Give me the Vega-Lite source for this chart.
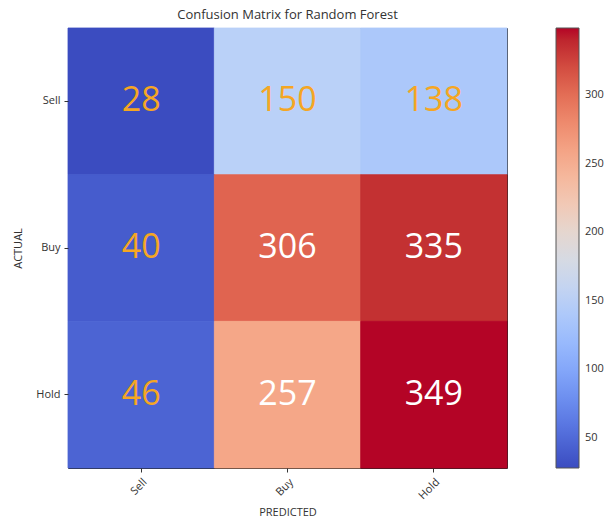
{
  "$schema": "https://vega.github.io/schema/vega-lite/v6.json",
  "width": 439,
  "height": 440,
  "autosize": {"type": "none"},
  "padding": {"left": 68, "top": 28, "right": 104, "bottom": 55},
  "background": "white",
  "title": {"text": "Confusion Matrix for Random Forest", "font": "Open Sans", "fontSize": 13, "fontWeight": "normal", "color": "#333333", "offset": 6},
  "data": {"values": [
    {"actual": "Sell", "predicted": "Sell", "value": 28},
    {"actual": "Sell", "predicted": "Buy", "value": 150},
    {"actual": "Sell", "predicted": "Hold", "value": 138},
    {"actual": "Buy", "predicted": "Sell", "value": 40},
    {"actual": "Buy", "predicted": "Buy", "value": 306},
    {"actual": "Buy", "predicted": "Hold", "value": 335},
    {"actual": "Hold", "predicted": "Sell", "value": 46},
    {"actual": "Hold", "predicted": "Buy", "value": 257},
    {"actual": "Hold", "predicted": "Hold", "value": 349}
  ]},
  "encoding": {
    "x": {"field": "predicted", "type": "nominal", "sort": ["Sell", "Buy", "Hold"], "title": "PREDICTED",
      "scale": {"paddingInner": 0, "paddingOuter": 0},
      "axis": {"labelAngle": -45, "labelAlign": "right", "labelBaseline": "top", "domain": false, "tickSize": 4, "tickColor": "#333", "labelFont": "Open Sans", "labelFontSize": 11, "labelColor": "#333", "titleFont": "Open Sans", "titleFontSize": 11, "titleFontWeight": "normal", "titleColor": "#333", "labelPadding": 4, "titlePadding": 6}},
    "y": {"field": "actual", "type": "nominal", "sort": ["Sell", "Buy", "Hold"], "title": "ACTUAL",
      "scale": {"paddingInner": 0, "paddingOuter": 0},
      "axis": {"labelAngle": 0, "domain": false, "tickSize": 4, "tickColor": "#333", "labelFont": "Open Sans", "labelFontSize": 11, "labelColor": "#333", "titleFont": "Open Sans", "titleFontSize": 11, "titleFontWeight": "normal", "titleColor": "#333", "labelPadding": 4, "titlePadding": 12}}
  },
  "layer": [
    {
      "mark": {"type": "rect", "strokeWidth": 0.8},
      "encoding": {
        "color": {"field": "value", "type": "quantitative",
          "scale": {"domain": [28, 68.125, 108.25, 148.375, 188.5, 228.625, 268.75, 308.875, 349],
                    "range": ["#3b4cc0", "#6282ea", "#8db0fe", "#b8d0f9", "#dddddd", "#f5c4ac", "#f49a7b", "#de604d", "#b40426"]},
          "legend": {"orient": "none", "legendX": 488, "legendY": 0, "title": null, "gradientLength": 440, "gradientThickness": 23,
            "values": [50, 100, 150, 200, 250, 300], "labelFont": "Open Sans", "labelFontSize": 11, "labelColor": "#333", "labelOffset": 6,
            "gradientStrokeColor": "#555", "gradientStrokeWidth": 1}},
        "stroke": {"field": "value", "type": "quantitative",
          "scale": {"domain": [28, 68.125, 108.25, 148.375, 188.5, 228.625, 268.75, 308.875, 349],
                    "range": ["#3b4cc0", "#6282ea", "#8db0fe", "#b8d0f9", "#dddddd", "#f5c4ac", "#f49a7b", "#de604d", "#b40426"]},
          "legend": null}
      }
    },
    {
      "mark": {"type": "text", "font": "Open Sans", "fontSize": 34, "baseline": "middle", "align": "center"},
      "encoding": {
        "text": {"field": "value", "type": "quantitative"},
        "color": {"condition": {"test": "datum.value > 200", "value": "white"}, "value": "#f5a623"}
      }
    }
  ],
  "resolve": {"scale": {"color": "independent"}},
  "config": {"view": {"stroke": "#222", "strokeWidth": 1}}
}
